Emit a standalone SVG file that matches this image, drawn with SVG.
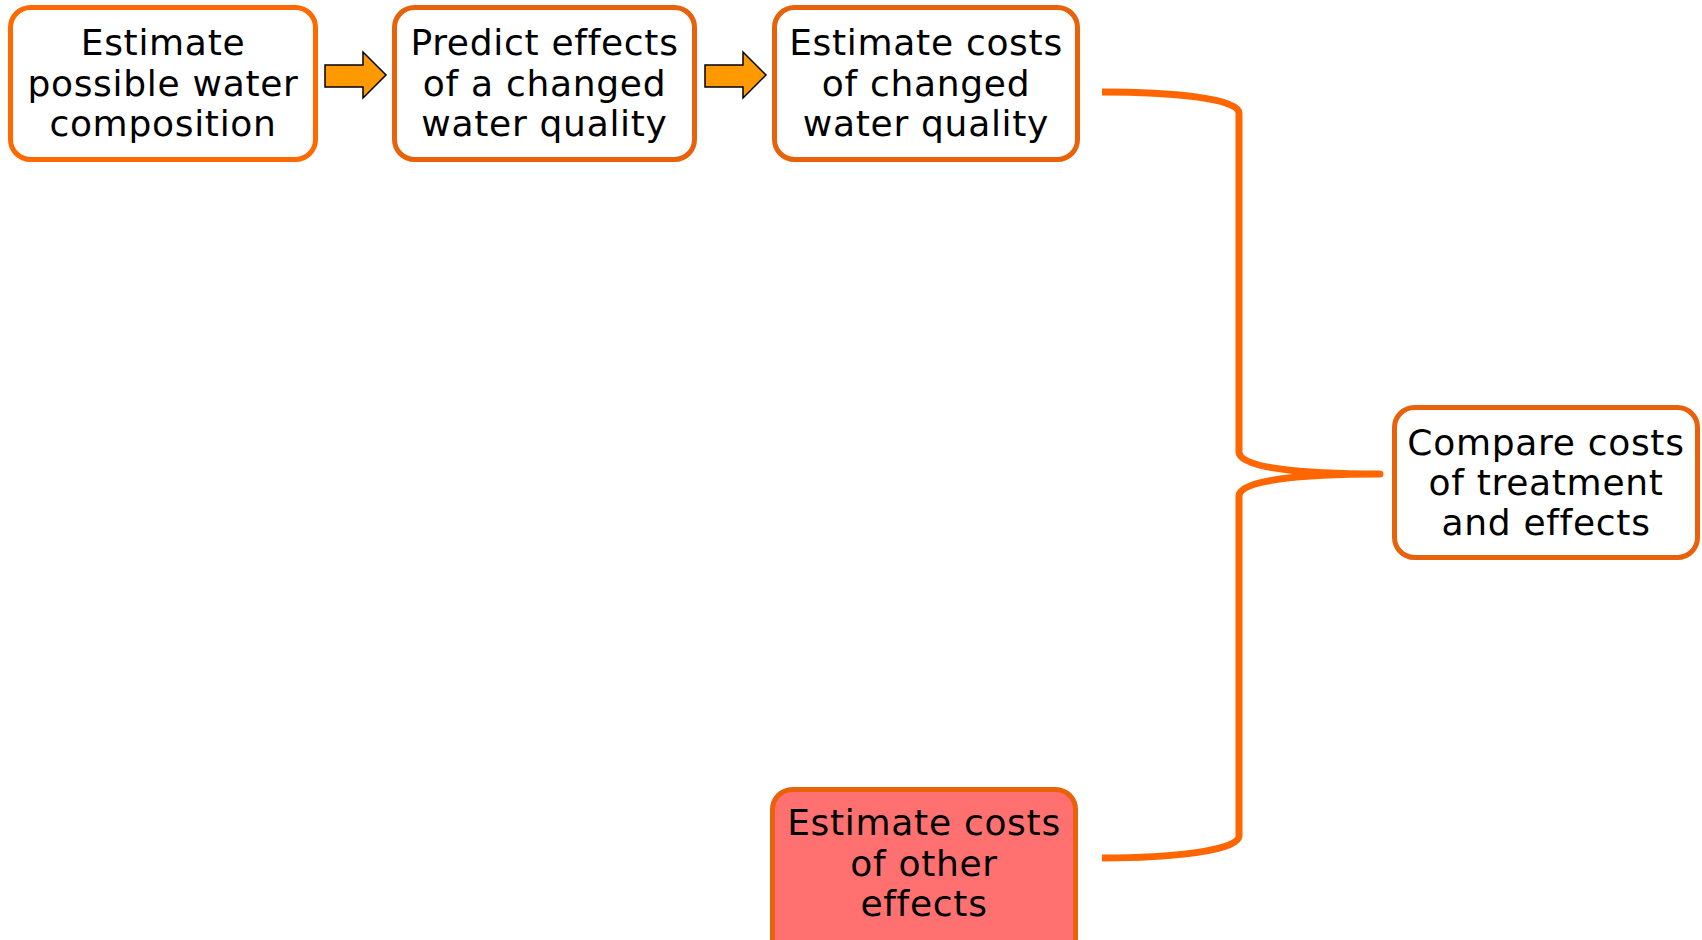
<svg xmlns="http://www.w3.org/2000/svg" width="1702" height="940" viewBox="0 0 1702 940">
  <style>
    .box { fill: #ffffff; stroke: #E8620C; stroke-width: 5; }
    .box.bright { stroke: #FF6A00; }
    .box.alert { fill: #FF7070; }
    .label { font-family: "DejaVu Sans", Verdana, sans-serif; font-size: 36px; letter-spacing: 0.7px; fill: #000000; text-anchor: middle; }
    .step { fill: #FF9900; stroke: #000000; stroke-width: 1.5; stroke-linejoin: miter; }
    .brace { fill: none; stroke: #FF6600; stroke-width: 7; stroke-linecap: butt; stroke-linejoin: round; }
  </style>

  <!-- process steps along the top row -->
  <g id="node-composition">
    <rect class="box bright" x="10.5" y="7.5" width="305" height="152" rx="20"/>
    <text class="label" x="163" y="55">Estimate</text>
    <text class="label" x="163" y="95.5">possible water</text>
    <text class="label" x="163" y="136">composition</text>
  </g>

  <g id="node-effects">
    <rect class="box" x="394.5" y="7.5" width="300" height="152" rx="20"/>
    <text class="label" x="544.5" y="55">Predict effects</text>
    <text class="label" x="544.5" y="95.5">of a changed</text>
    <text class="label" x="544.5" y="136">water quality</text>
  </g>

  <g id="node-quality-costs">
    <rect class="box" x="774.5" y="7.5" width="303" height="152" rx="20"/>
    <text class="label" x="926" y="55">Estimate costs</text>
    <text class="label" x="926" y="95.5">of changed</text>
    <text class="label" x="926" y="136">water quality</text>
  </g>

  <g id="node-compare">
    <rect class="box" x="1394.5" y="407.5" width="303" height="150" rx="20"/>
    <text class="label" x="1546" y="455">Compare costs</text>
    <text class="label" x="1546" y="495">of treatment</text>
    <text class="label" x="1546" y="535">and effects</text>
  </g>

  <g id="node-other-costs">
    <rect class="box alert" x="772.5" y="789.5" width="303" height="170" rx="20"/>
    <text class="label" x="924" y="835">Estimate costs</text>
    <text class="label" x="924" y="875.5">of other</text>
    <text class="label" x="924" y="916">effects</text>
  </g>

  <!-- connectors: block arrows and the joining brace -->
  <g id="connectors">
    <path class="step" d="M325,65 L363,65 L363,52 L386,75 L363,98 L363,87 L325,87 Z"/>
    <path class="step" d="M705,65 L743,65 L743,52 L766,75 L743,98 L743,87 L705,87 Z"/>
    <path class="brace" d="M1102,92 C1170,92 1239,98 1239,113 L1239,452 C1239,468 1300,474 1380,474 C1300,474 1239,480 1239,496 L1239,836 C1239,851 1170,858 1102,858"/>
  </g>
</svg>
